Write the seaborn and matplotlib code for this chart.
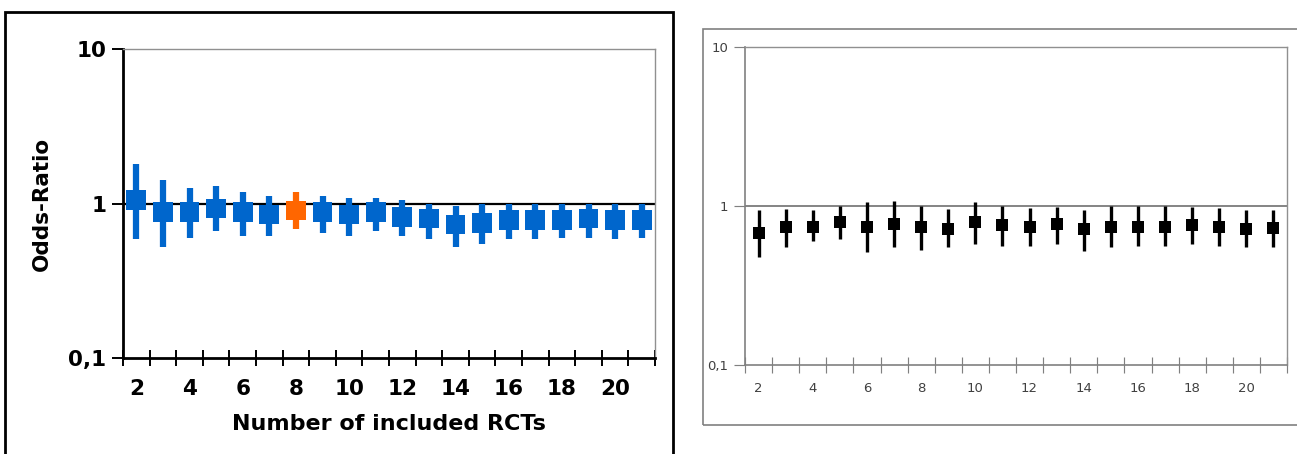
import numpy as np
import pandas as pd
import matplotlib.pyplot as plt
import seaborn as sns
from matplotlib.patches import Rectangle

# number of included RCTs
n_rcts = list(range(2, 22))

# left panel: cumulative odds ratio with 95% CI
left_or = [1.05, 0.88, 0.88, 0.93, 0.88, 0.85, 0.90, 0.88, 0.85, 0.88,
           0.82, 0.80, 0.73, 0.75, 0.78, 0.78, 0.78, 0.80, 0.78, 0.78]
left_lo = [0.59, 0.52, 0.60, 0.66, 0.62, 0.62, 0.68, 0.64, 0.62, 0.66,
           0.62, 0.59, 0.52, 0.55, 0.59, 0.59, 0.60, 0.60, 0.59, 0.60]
left_hi = [1.79, 1.42, 1.26, 1.30, 1.19, 1.12, 1.19, 1.12, 1.09, 1.09,
           1.05, 1.00, 0.96, 1.00, 1.00, 1.00, 1.00, 1.00, 1.00, 1.00]
highlight = 8

# right panel
right_or = [0.68, 0.74, 0.74, 0.79, 0.74, 0.77, 0.74, 0.72, 0.79, 0.76,
            0.74, 0.77, 0.72, 0.74, 0.74, 0.74, 0.76, 0.74, 0.72, 0.73]
right_lo = [0.48, 0.55, 0.60, 0.62, 0.51, 0.55, 0.53, 0.55, 0.58, 0.56,
            0.56, 0.58, 0.52, 0.55, 0.56, 0.56, 0.58, 0.56, 0.55, 0.55]
right_hi = [0.94, 0.96, 0.94, 1.00, 1.06, 1.08, 1.00, 0.96, 1.06, 1.00,
            0.97, 0.99, 0.95, 1.00, 1.00, 1.00, 0.99, 0.97, 0.94, 0.95]

y_ticks = [0.1, 1, 10]
y_labels = ['0,1', '1', '10']
x_labels = list(range(2, 21, 2))

sns.set_style('white')
plt.rcParams['font.family'] = ['DejaVu Sans']

W, H = 1297, 454
fig = plt.figure(figsize=(W / 100, H / 100), dpi=100)


def px(x0, y0, x1, y1):
    # pixel box (top-left origin) -> figure fraction rect
    return [x0 / W, 1 - y1 / H, (x1 - x0) / W, (y1 - y0) / H]


# outer frames
l, b, w, h = px(5, 12, 673, 470)
fig.patches.append(Rectangle((l, b), w, h, transform=fig.transFigure,
                             fill=False, ec='black', lw=2))
l, b, w, h = px(703, 29, 1310, 425)
fig.patches.append(Rectangle((l, b), w, h, transform=fig.transFigure,
                             fill=False, ec='#808080', lw=1.2))

left = pd.DataFrame({'n': n_rcts, 'or': left_or, 'lo': left_lo, 'hi': left_hi})
left['hl'] = np.where(left['n'] == highlight, 'sel', 'rest')
right = pd.DataFrame({'n': n_rcts, 'or': right_or, 'lo': right_lo, 'hi': right_hi})


def setup(ax, col, spine_lw):
    ax.set_yscale('log')
    ax.set_ylim(0.1, 10)
    ax.set_xlim(1.5, 21.5)
    for s in ax.spines.values():
        s.set_color('#909090')
        s.set_linewidth(1)
    ax.spines['left'].set_color(col)
    ax.spines['bottom'].set_color(col)
    ax.spines['left'].set_linewidth(spine_lw)
    ax.spines['bottom'].set_linewidth(spine_lw)
    ax.set_yticks(y_ticks)
    ax.set_yticklabels(y_labels)
    ax.yaxis.set_minor_locator(plt.NullLocator())
    ax.set_xticks(x_labels)
    ax.set_xticklabels([str(v) for v in x_labels])
    ax.set_xticks(np.arange(1.5, 22, 1), minor=True)
    ax.tick_params(axis='x', which='major', bottom=True, length=0, pad=12)
    ax.tick_params(axis='x', which='minor', bottom=True, direction='inout',
                   length=11, width=spine_lw * 0.7, color=col)
    ax.tick_params(axis='y', which='major', left=True, direction='out',
                   length=8, width=spine_lw * 0.7, color=col, pad=4)
    ax.set_xlabel('')
    ax.set_ylabel('')


# ---- left panel
ax1 = fig.add_axes(px(123, 49, 655, 358))
ax1.axhline(1, color='black', lw=1.6, zorder=1)
ax1.vlines(left['n'], left['lo'], left['hi'],
           colors=np.where(left['hl'] == 'sel', '#FF6600', '#0066CC'),
           lw=4.5, zorder=2)
sns.scatterplot(data=left, x='n', y='or', hue='hl',
                palette={'rest': '#0066CC', 'sel': '#FF6600'},
                marker='s', s=200, linewidth=0, legend=False, ax=ax1, zorder=3)
setup(ax1, 'black', 2)
for t in ax1.get_xticklabels() + ax1.get_yticklabels():
    t.set_fontweight('bold')
    t.set_fontsize(15.5)
    t.set_color('black')
ax1.tick_params(axis='x', which='major', pad=15)
ax1.set_xlabel('Number of included RCTs', fontsize=16, fontweight='bold',
               color='black', labelpad=11)
ax1.set_ylabel('Odds-Ratio', fontsize=15.5, fontweight='bold',
               color='black', labelpad=12)

# ---- right panel
ax2 = fig.add_axes(px(745, 47, 1287, 365))
ax2.axhline(1, color='#707070', lw=1.2, zorder=1)
ax2.vlines(right['n'], right['lo'], right['hi'], colors='black', lw=2.4, zorder=2)
sns.scatterplot(data=right, x='n', y='or', color='black', marker='s', s=64,
                linewidth=0, legend=False, ax=ax2, zorder=3)
setup(ax2, '#808080', 1.2)
ax2.tick_params(axis='x', which='major', pad=12)
for t in ax2.get_xticklabels() + ax2.get_yticklabels():
    t.set_fontsize(9.5)
    t.set_color('#404040')

fig.savefig('out.png', dpi=100)
